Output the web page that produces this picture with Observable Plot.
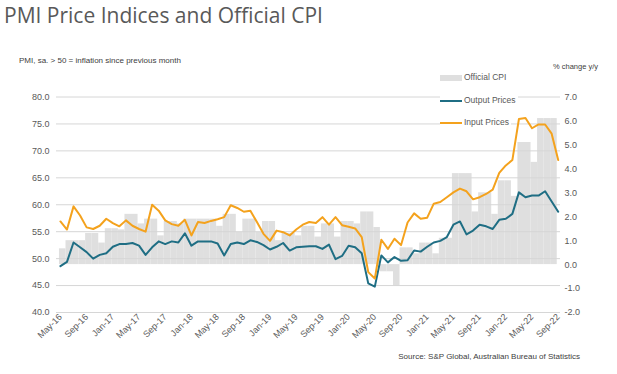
<!DOCTYPE html>
<html><head><meta charset="utf-8">
<script src="https://cdn.jsdelivr.net/npm/d3@7"></script>
<script src="https://cdn.jsdelivr.net/npm/@observablehq/plot@0.6"></script>
<style>
body{margin:0;background:#fff;}
#wrap{position:relative;width:617px;height:374px;overflow:hidden;font-family:"Liberation Sans",Arial,sans-serif;color:#595959;}
.abs{position:absolute;white-space:nowrap;}
#title{left:4px;top:1px;font-family:"Open Sans",sans-serif;font-size:21px;color:#595959;}
#sub{left:19px;top:56px;font-size:8px;color:#404040;}
#unit{left:553px;top:62px;font-size:7.5px;color:#404040;}
#source{right:37px;top:352px;font-size:8px;color:#404040;}
#chart{position:absolute;left:0;top:44px;}
.lg{position:absolute;left:440px;font-size:8.5px;color:#595959;background:#fff;padding-right:2px;line-height:11px;}
.sw{display:inline-block;width:22px;vertical-align:middle;margin-right:2px;}
</style></head>
<body>
<div id="wrap">
  <div id="title" class="abs">PMI Price Indices and Official CPI</div>
  <div id="sub" class="abs">PMI, sa. &gt; 50 = inflation since previous month</div>
  <div id="unit" class="abs">% change y/y</div>
  <div id="chart"></div>
  <div class="lg" style="top:72px"><span class="sw" style="height:6px;background:#dfdfdf"></span>Official CPI</div>
  <div class="lg" style="top:95px"><span class="sw" style="height:2px;background:#1f6e84"></span>Output Prices</div>
  <div class="lg" style="top:117px"><span class="sw" style="height:2px;background:#f4a21d"></span>Input Prices</div>
  <div id="source" class="abs">Source: S&amp;P Global, Australian Bureau of Statistics</div>
</div>
<script>
const months = ["May-16","Jun-16","Jul-16","Aug-16","Sep-16","Oct-16","Nov-16","Dec-16",
"Jan-17","Feb-17","Mar-17","Apr-17","May-17","Jun-17","Jul-17","Aug-17","Sep-17","Oct-17","Nov-17","Dec-17",
"Jan-18","Feb-18","Mar-18","Apr-18","May-18","Jun-18","Jul-18","Aug-18","Sep-18","Oct-18","Nov-18","Dec-18",
"Jan-19","Feb-19","Mar-19","Apr-19","May-19","Jun-19","Jul-19","Aug-19","Sep-19","Oct-19","Nov-19","Dec-19",
"Jan-20","Feb-20","Mar-20","Apr-20","May-20","Jun-20","Jul-20","Aug-20","Sep-20","Oct-20","Nov-20","Dec-20",
"Jan-21","Feb-21","Mar-21","Apr-21","May-21","Jun-21","Jul-21","Aug-21","Sep-21","Oct-21","Nov-21","Dec-21",
"Jan-22","Feb-22","Mar-22","Apr-22","May-22","Jun-22","Jul-22","Aug-22","Sep-22"];

const outputPrices = [48.6,49.4,53.0,52.1,51.2,50.0,50.7,51.0,52.2,52.7,52.7,52.9,52.4,50.7,52.1,53.2,52.7,53.2,53.0,54.7,
52.4,53.2,53.2,53.2,52.8,50.6,52.7,53.0,52.7,53.4,53.1,52.5,51.7,52.2,52.9,51.5,52.1,52.2,52.3,52.3,
51.8,52.6,49.9,50.5,52.4,52.1,51.0,45.4,44.8,50.6,49.3,50.3,49.6,49.7,51.5,51.3,52.2,53.0,53.3,54.0,
56.3,56.9,54.5,55.2,56.3,56.0,55.5,57.2,57.4,58.3,62.3,61.4,61.7,61.7,62.5,60.6,58.7];

const inputPrices = [56.9,55.4,59.7,58.0,55.8,55.5,56.1,57.4,56.6,56.0,57.1,56.1,55.5,55.0,60.0,58.9,57.1,56.4,56.1,57.2,
54.3,56.8,56.6,57.0,57.3,57.7,59.9,59.4,58.7,58.9,56.8,54.6,53.3,55.2,54.9,54.3,55.4,56.3,56.8,56.6,
57.7,56.3,57.7,56.2,55.9,55.6,54.0,47.5,46.3,53.5,51.8,53.7,52.5,56.7,58.4,57.4,57.6,60.2,60.5,61.4,
62.3,63.0,62.5,61.0,61.4,62.0,62.8,65.9,67.3,68.3,75.9,76.1,74.2,74.9,74.9,73.2,68.3];

// Official CPI, % change y/y (right axis), one value per monthly column
const officialCPI = [0.66,1.0,1.0, 1.0,1.3,1.3, 0.9,1.5,1.5, 1.45,2.1,2.1, 1.7,1.9,1.9, 1.2,1.8,1.8,
1.7,1.9,1.9, 1.9,1.9,1.9, 1.6,2.1,2.1, 1.35,1.9,1.9, 1.35,1.8,1.8, 1.0,1.3,1.3, 1.2,1.6,1.6,
1.15,1.7,1.7, 1.15,1.8,1.8, 1.7,2.2,2.2, 1.55,-0.3,-0.3, -0.9,0.7,0.7, 0.45,0.9,0.9, 0.45,1.1,1.1,
3.8,3.8,3.8, 2.2,3.0,3.0, 2.1,3.5,3.5, 2.85,5.1,5.1, 4.27,6.1,6.1, 6.1];

const leftTicks = [40,45,50,55,60,65,70,75,80];
const rightTicks = [-2,-1,0,1,2,3,4,5,6,7];
const tickLabels = ["May-16","Sep-16","Jan-17","May-17","Sep-17","Jan-18","May-18","Sep-18","Jan-19","May-19",
"Sep-19","Jan-20","May-20","Sep-20","Jan-21","May-21","Sep-21","Jan-22","May-22","Sep-22"];

// right axis (-2..7) shares the left axis (40..80) span
const toLeft = r => 40 + (r + 2) * 40 / 9;
const fromLeft = v => { const r = Math.round(((v - 40) * 9 / 40 - 2) * 10) / 10; return (r === 0 ? 0 : r).toFixed(1); };
const barShift = 0.35;

const chart = Plot.plot({
  width: 617, height: 305,
  marginLeft: 56, marginRight: 57, marginTop: 52.5, marginBottom: 37,
  x: {type: "linear", domain: [-0.6, 76.35]},
  y: {domain: [40, 80]},
  style: {fontFamily: "'Liberation Sans', Arial, sans-serif", fontSize: "9px", color: "#595959", background: "transparent", overflow: "visible"},
  marks: [
    Plot.rect(officialCPI, {x1: (d, i) => i - 0.5 + barShift, x2: (d, i) => i + 0.5 + barShift, y1: () => toLeft(0), y2: d => toLeft(d), fill: "#dfdfdf"}),
    Plot.ruleY(leftTicks, {stroke: "#d6d6d6", strokeWidth: 1}),
    Plot.line(outputPrices, {x: (d, i) => i, y: d => d, stroke: "#1f6e84", strokeWidth: 2}),
    Plot.line(inputPrices, {x: (d, i) => i, y: d => d, stroke: "#f4a21d", strokeWidth: 2}),
    Plot.axisY(leftTicks, {anchor: "left", tickSize: 0, tickPadding: 7, tickFormat: d => d.toFixed(1), label: null}),
    Plot.axisY(rightTicks.map(toLeft), {anchor: "right", tickSize: 0, tickPadding: 4, tickFormat: fromLeft, label: null}),
    Plot.axisX(tickLabels.map(l => months.indexOf(l)), {anchor: "bottom", tickSize: 0, tickPadding: 3, tickRotate: -45, tickFormat: d => months[d], label: null})
  ]
});
document.getElementById("chart").appendChild(chart);
</script>
</body></html>
